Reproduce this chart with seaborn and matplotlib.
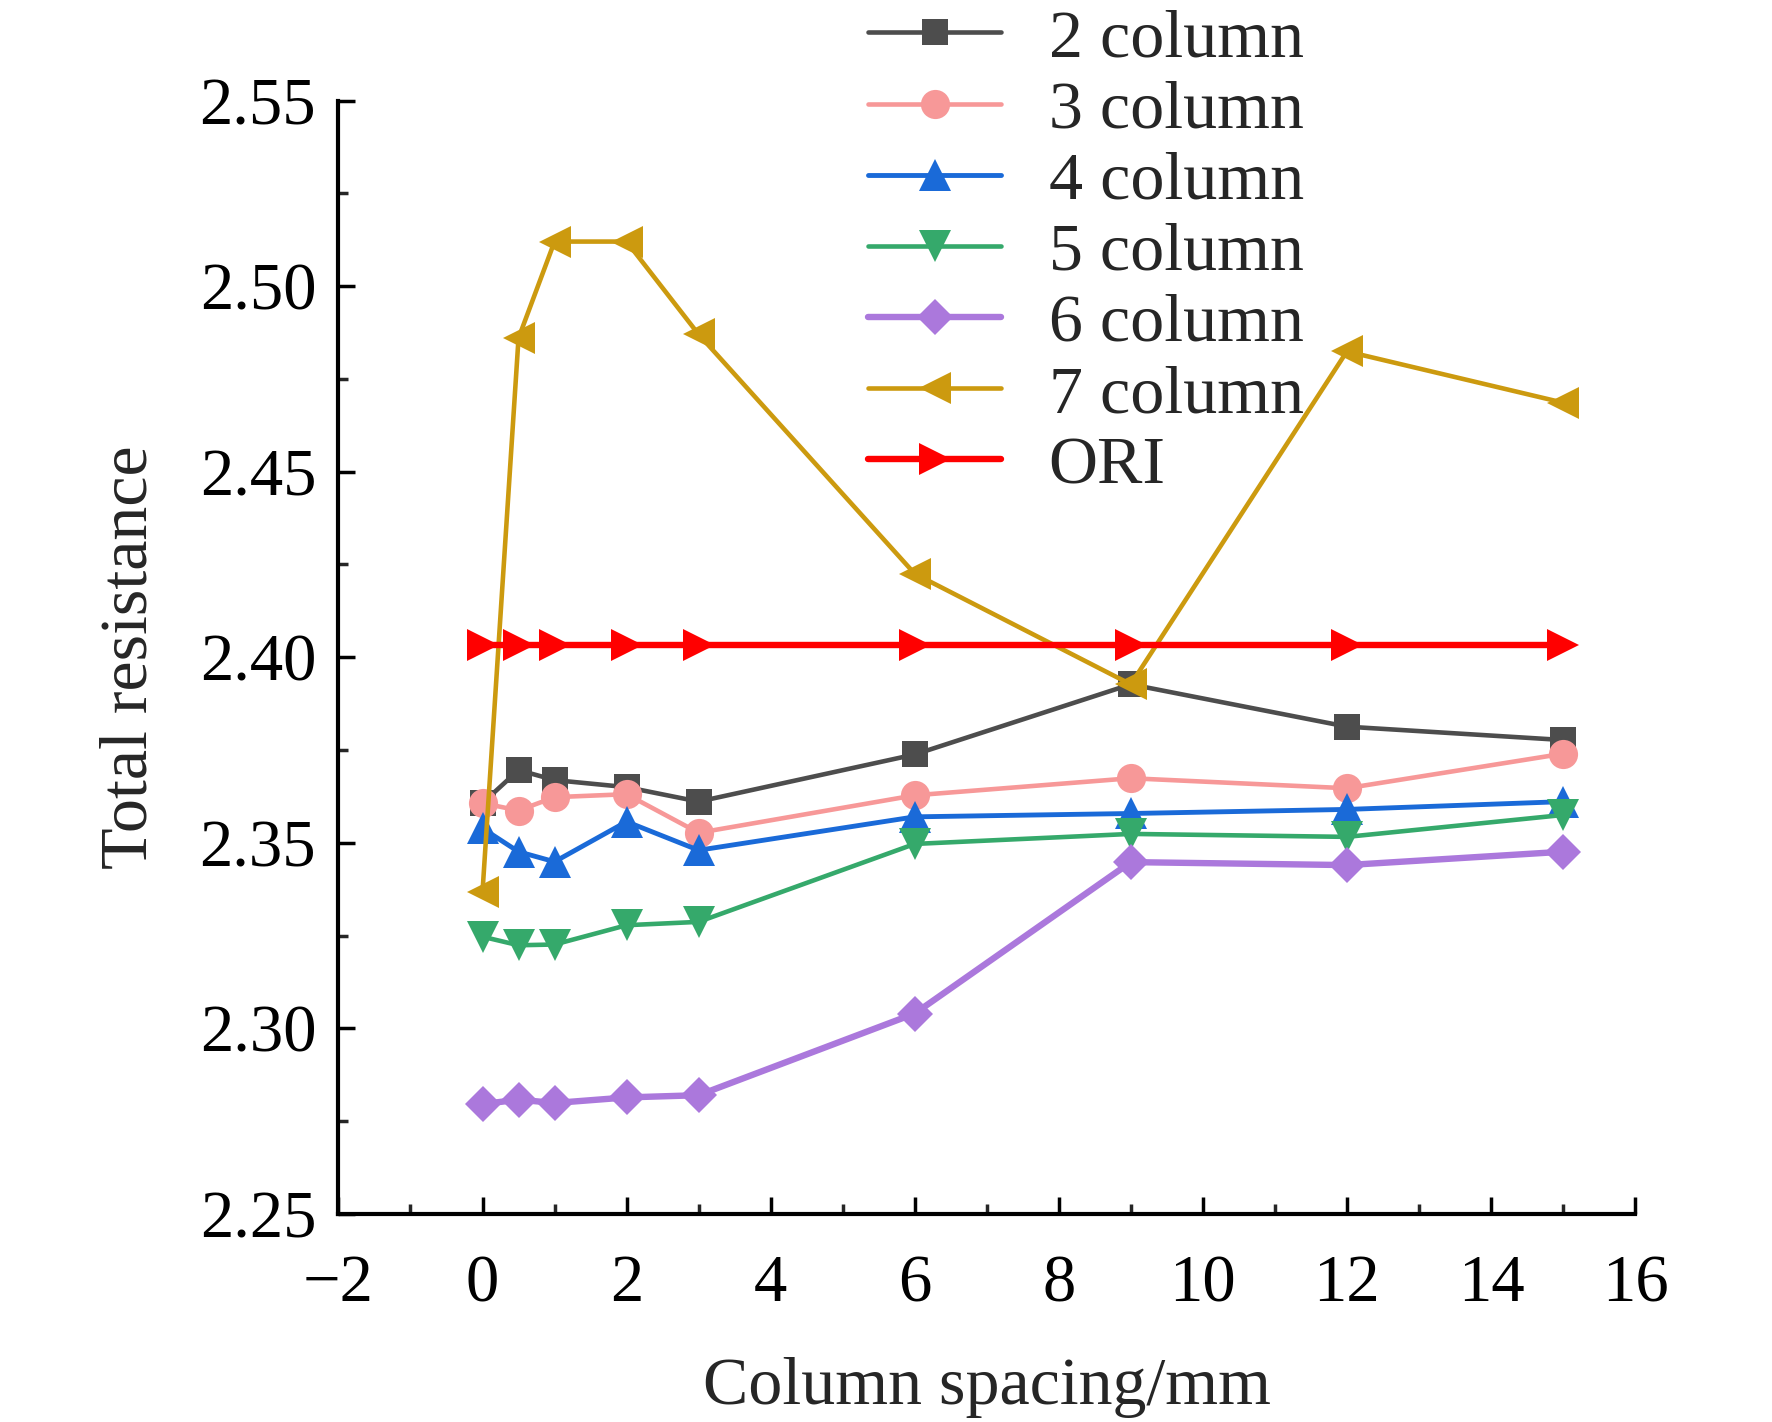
import pandas as pd
import numpy as np
import matplotlib
matplotlib.use("Agg")
import matplotlib.pyplot as plt
from matplotlib.ticker import MultipleLocator
import seaborn as sns

# ==================================================
# DATA
# ==================================================

spacing = [0, 0.5, 1, 2, 3, 6, 9, 12, 15]

col2 = [2.3607, 2.3696, 2.3669, 2.3650, 2.3611, 2.3738, 2.3927, 2.3813, 2.3777]
col3 = [2.3607, 2.3587, 2.3623, 2.3631, 2.3527, 2.3628, 2.3674, 2.3647, 2.3740]
col4 = [2.3539, 2.3476, 2.3449, 2.3557, 2.3480, 2.3570, 2.3579, 2.3590, 2.3611]
col5 = [2.3247, 2.3224, 2.3226, 2.3278, 2.3287, 2.3497, 2.3524, 2.3516, 2.3575]
col6 = [2.2796, 2.2808, 2.2799, 2.2814, 2.2820, 2.3040, 2.3448, 2.3440, 2.3476]
col7 = [2.3368, 2.4860, 2.5120, 2.5120, 2.4870, 2.4225, 2.3927, 2.4824, 2.4686]
ori = [2.4034, 2.4034, 2.4034, 2.4034, 2.4034, 2.4034, 2.4034, 2.4034, 2.4034]

labels = ["2 column", "3 column", "4 column", "5 column", "6 column", "7 column", "ORI"]
series = [col2, col3, col4, col5, col6, col7, ori]

colors = ["#4d4d4d", "#f79898", "#1a6ad8", "#35a96b", "#ab78dc", "#cc9a0f", "#ff0000"]
markers = ["s", "o", "^", "v", "D", "<", ">"]
msizes = [19, 21, 23, 23, 18, 23, 23]
lwidths = [3.3, 3.3, 3.5, 3.3, 4.6, 3.3, 4.6]

df = pd.DataFrame({
    "Column spacing/mm": np.tile(spacing, len(labels)),
    "Total resistance": np.concatenate(series),
    "Series": np.repeat(labels, len(spacing)),
})

# ==================================================
# STYLE
# ==================================================

sns.set_style("ticks")
plt.rcParams["font.family"] = ["Liberation Serif", "DejaVu Serif"]

fig = plt.figure(figsize=(17.72, 14.22), dpi=100)
ax = fig.add_axes([0.191, 0.1463, 0.7317, 0.783])

# ==================================================
# LINES
# ==================================================

for i, lab in enumerate(labels):
    sns.lineplot(
        data=df[df["Series"] == lab],
        x="Column spacing/mm",
        y="Total resistance",
        color=colors[i],
        marker=markers[i],
        markersize=msizes[i],
        markeredgewidth=0,
        linewidth=lwidths[i],
        label=lab,
        ax=ax,
        zorder=3 + i,
        clip_on=False,
    )

# ==================================================
# AXES
# ==================================================

ax.set_xlim(-2, 16)
ax.set_ylim(2.25, 2.55)
ax.xaxis.set_major_locator(MultipleLocator(2))
ax.xaxis.set_minor_locator(MultipleLocator(1))
ax.yaxis.set_major_locator(MultipleLocator(0.05))
ax.yaxis.set_minor_locator(MultipleLocator(0.025))
ax.yaxis.set_major_formatter(matplotlib.ticker.FormatStrFormatter("%.2f"))

ax.xaxis.set_major_formatter(
    matplotlib.ticker.FuncFormatter(lambda v, p: ("\u2212%d" % abs(v)) if v < 0 else "%d" % v)
)

for s in ["top", "right"]:
    ax.spines[s].set_visible(False)
for s in ["left", "bottom"]:
    ax.spines[s].set_linewidth(3)
    ax.spines[s].set_color("black")

ax.tick_params(axis="both", which="major", direction="in", length=12, width=2.5,
               labelsize=48, colors="black")
ax.tick_params(axis="both", which="minor", direction="in", length=7, width=2.5)
ax.tick_params(axis="x", which="major", pad=29)
ax.tick_params(axis="y", which="major", pad=16)

ax.set_xlabel("Column spacing/mm", fontsize=49, labelpad=30)
ax.set_ylabel("Total resistance", fontsize=49, labelpad=28)

leg = ax.legend(
    loc="upper left",
    bbox_to_anchor=(0.49, 0.994),
    bbox_transform=fig.transFigure,
    frameon=False,
    fontsize=49,
    handlelength=1.95,
    handletextpad=0.7,
    labelspacing=0.14,
    borderpad=0.0,
    borderaxespad=0.0,
)

fig.savefig("out.png", dpi=100)
